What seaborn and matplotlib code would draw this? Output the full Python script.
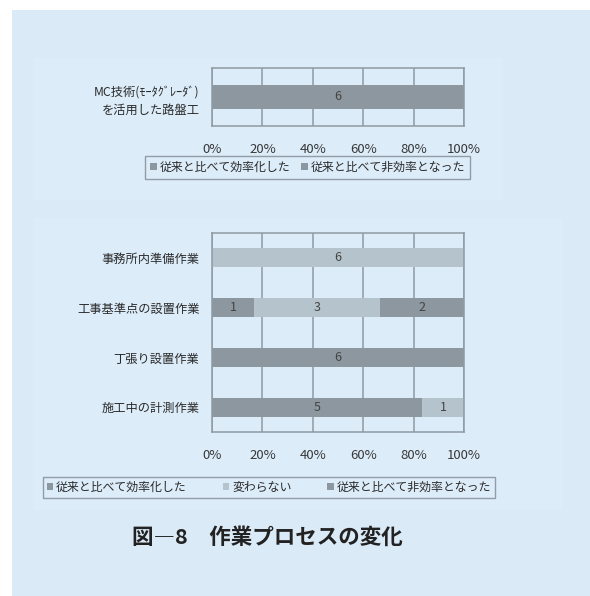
import matplotlib
matplotlib.use("Agg")
import matplotlib.pyplot as plt
from matplotlib.patches import Rectangle, Patch
from matplotlib.ticker import FuncFormatter
import seaborn as sns
import pandas as pd
import numpy as np

# ---------------- data ----------------
cats_top = ["MC技術(ﾓｰﾀｸﾞﾚｰﾀﾞ)\nを活用した路盤工"]
top_eff = [6]
top_ineff = [0]
legend_top = ["従来と比べて効率化した", "従来と比べて非効率となった"]

cats_bot = ["事務所内準備作業", "工事基準点の設置作業", "丁張り設置作業", "施工中の計測作業"]
bot_eff = [0, 1, 6, 5]
bot_same = [6, 3, 0, 1]
bot_ineff = [0, 2, 0, 0]
legend_bot = ["従来と比べて効率化した", "変わらない", "従来と比べて非効率となった"]

xticks = [0, 20, 40, 60, 80, 100]
title = "図―8　作業プロセスの変化"

# ---------------- style ----------------
sns.set_style("white")
plt.rcParams["font.family"] = ["Noto Sans CJK JP", "DejaVu Sans"]

BG = "#dbeaf7"
BG_IN = "#dcecf9"
DARK = "#8c979f"
LIGHT = "#b5c3cc"
GRID = "#8f9aa2"
TXT = "#383838"

fig = plt.figure(figsize=(5.9, 5.96), dpi=100)
fig.patch.set_facecolor("white")
fig.add_artist(Rectangle((12 / 590, 0), 1 - 12 / 590, 1 - 10 / 596,
                         transform=fig.transFigure, facecolor=BG,
                         edgecolor="none", zorder=-10))
# subtle lighter chart areas
fig.add_artist(Rectangle((33 / 590, 1 - 200 / 596), 470 / 590, 142 / 596,
                         transform=fig.transFigure, facecolor=BG_IN,
                         edgecolor="none", zorder=-9))
fig.add_artist(Rectangle((33 / 590, 1 - 510 / 596), 530 / 590, 292 / 596,
                         transform=fig.transFigure, facecolor=BG_IN,
                         edgecolor="none", zorder=-9))


def style_axes(ax, n):
    ax.set_facecolor("none")
    ax.set_xlim(0, 100)
    ax.set_xticks(xticks)
    ax.xaxis.set_major_formatter(FuncFormatter(lambda v, p: f"{v:.0f}%"))
    ax.grid(axis="x", color=GRID, linewidth=1.1)
    ax.grid(axis="y", visible=False)
    ax.set_axisbelow(True)
    for s in ax.spines.values():
        s.set_color(GRID)
        s.set_linewidth(1.1)
    ax.spines["right"].set_visible(True)
    ax.tick_params(axis="x", direction="out", length=5, width=1.1,
                   color=GRID, pad=7, labelsize=9.5, labelcolor=TXT)
    ax.tick_params(axis="y", which="major", length=0, pad=9,
                   labelsize=8.8, labelcolor="#2a2a2a")
    ax.set_yticks(np.arange(-0.5, n, 1.0), minor=True)
    ax.tick_params(axis="y", which="minor", direction="out", length=4,
                   width=1.1, color=GRID)
    ax.set_xlabel("")
    ax.set_ylabel("")


def stacked(ax, cats, series, colors, bw):
    total = np.sum(series, axis=0).astype(float)
    pct = [np.array(s) / total * 100 for s in series]
    cum = np.cumsum(pct, axis=0)
    # draw from the longest cumulative to the shortest
    for i in range(len(series) - 1, -1, -1):
        df = pd.DataFrame({"cat": cats, "val": cum[i]})
        sns.barplot(data=df, y="cat", x="val", orient="h", color=colors[i],
                    width=bw, saturation=1, linewidth=0, ax=ax, zorder=2)
    for i, s in enumerate(series):
        starts = cum[i] - pct[i]
        for j, v in enumerate(s):
            if v > 0:
                ax.text(starts[j] + pct[i][j] / 2, j, f"{v}", ha="center",
                        va="center", fontsize=9, color="#444444", zorder=3)


def style_legend(leg):
    fr = leg.get_frame()
    fr.set_edgecolor("#7f8a92")
    fr.set_facecolor(BG_IN)
    fr.set_linewidth(1.0)
    for t in leg.get_texts():
        t.set_color("#2a2a2a")


# ---------------- top chart ----------------
ax1 = fig.add_axes([212 / 590, 1 - 126 / 596, 252 / 590, 58 / 596])
stacked(ax1, cats_top, [top_eff, top_ineff], [DARK, DARK], 0.4)
style_axes(ax1, len(cats_top))
for t in ax1.get_yticklabels():
    t.set_linespacing(1.5)

h1 = [Patch(facecolor=DARK, edgecolor="none") for _ in legend_top]
leg1 = fig.legend(h1, legend_top, loc="center",
                  bbox_to_anchor=(307.5 / 590, 1 - 167.5 / 596), ncol=2,
                  frameon=True, fancybox=False, fontsize=8.6,
                  handlelength=0.55, handleheight=0.55, handletextpad=0.25,
                  columnspacing=0.9, borderpad=0.45)
style_legend(leg1)

# ---------------- bottom chart ----------------
ax2 = fig.add_axes([212 / 590, 1 - 432 / 596, 252 / 590, 199 / 596])
stacked(ax2, cats_bot, [bot_eff, bot_same, bot_ineff], [DARK, LIGHT, DARK], 0.38)
style_axes(ax2, len(cats_bot))

h2 = [Patch(facecolor=c, edgecolor="none") for c in [DARK, LIGHT, DARK]]
leg2 = fig.legend(h2, legend_bot, loc="center",
                  bbox_to_anchor=(269 / 590, 1 - 487.5 / 596), ncol=3,
                  frameon=True, fancybox=False, fontsize=8.6,
                  handlelength=0.55, handleheight=0.55, handletextpad=0.25,
                  columnspacing=3.0, borderpad=0.3)
style_legend(leg2)

fig.text(267 / 590, 1 - 537 / 596, title, ha="center", va="center",
         fontsize=15.5, fontweight="bold", color="#222222")

fig.savefig("out.png", dpi=100, facecolor=fig.get_facecolor())
